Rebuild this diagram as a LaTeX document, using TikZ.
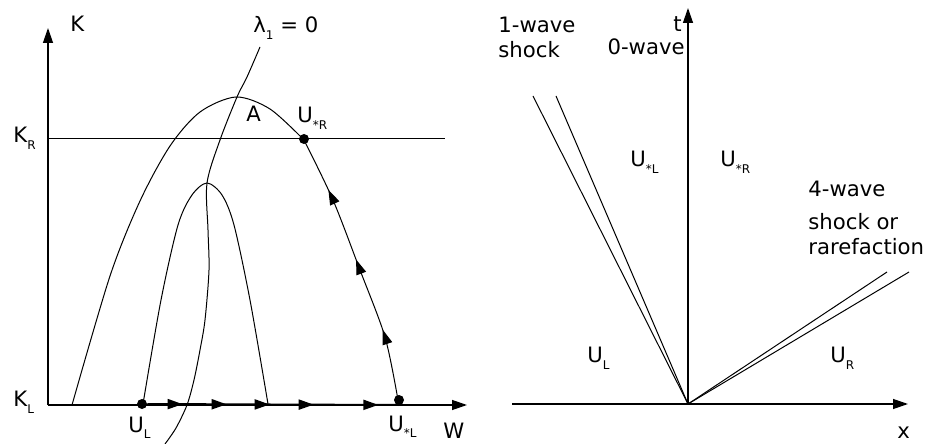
\documentclass[tikz,border=0pt]{standalone}
\usepackage{fontspec}
\setmainfont{DejaVu Sans}
\usetikzlibrary{arrows.meta,decorations.markings}
\newcommand{\ssub}[2]{#1\raisebox{-0.6ex}{\fontsize{6}{7}\selectfont#2}}
\tikzset{>={Triangle[length=7.5pt,width=5pt]}}
\begin{document}
\begin{tikzpicture}[x=0.5pt,y=-0.5pt,
  every node/.style={font=\fontsize{10.6}{12.5}\selectfont,inner sep=0pt},
  axis/.style={line width=0.65pt,->},
  curve/.style={line width=0.5pt},
  dot/.style={circle,fill,inner sep=0pt,minimum size=5pt},
  wstep/.style={line width=1pt,postaction={decorate},decoration={markings,
    mark=at position 0.14 with {\arrow{>}},mark=at position 0.315 with {\arrow{>}},
    mark=at position 0.486 with {\arrow{>}},mark=at position 0.661 with {\arrow{>}},
    mark=at position 0.918 with {\arrow{>}}}},
  kstep/.style={postaction={decorate},decoration={markings,
    mark=at position 0.26 with {\arrow{>}},mark=at position 0.53 with {\arrow{>}},
    mark=at position 0.80 with {\arrow{>}}}}]
\useasboundingbox (0,0) rectangle (928,444);
% left: (W,K) plane
\coordinate (o1) at (48,405);
\coordinate (ktip) at (48,28);
\coordinate (wtip) at (467,405);
\coordinate (kr0) at (48,139);
\coordinate (kr1) at (445,139);
\coordinate (wend) at (399,405);
\draw[axis] (o1) -- (ktip);
\draw[axis] (o1) -- (wtip);
\draw[curve] (kr0) -- (kr1);
\node[dot] (UL) at (142,404) {};
\node[dot] (UsL) at (399,400) {};
\node[dot] (UsR) at (304,139) {};
\draw[curve] plot[smooth] coordinates {(72,405) (110,276) (140,201) (170,146) (200,112) (236,97) (270,109) (304,140)};
\draw[curve,kstep] plot[smooth] coordinates {(398,400) (385,337) (360,270) (333,200) (304,140)};
\draw[curve] plot[smooth] coordinates {(143,404) (161,300) (178,225) (192,195) (207,183) (222,195) (234,225) (250,300) (268,404)};
\draw[curve] plot[smooth] coordinates {(260,47) (247,77) (237,97) (220,140) (207,183) (208,230) (209,270) (205,320) (200,350) (194,380) (187,405) (176,428) (165,444)};
\draw[wstep] (UL) -- (wend);
\node[anchor=base west] (lK) at (70,32) {K};
\node[anchor=base west] (lKR) at (13,143) {\ssub{K}{R}};
\node[anchor=base west] (lKL) at (13,407) {\ssub{K}{L}};
\node[anchor=base west] (lUL) at (128,432) {\ssub{U}{L}};
\node[anchor=base west] (lUsL) at (388,431) {\ssub{U}{*L}};
\node[anchor=base west] (lW) at (443,438) {W};
\node[anchor=base west] (lUsR) at (297,123) {\ssub{U}{*R}};
\node[anchor=base west] (lA) at (246,122) {A};
\node[anchor=base west] (llam) at (253,33) {\ssub{λ}{1} = 0};
% right: (x,t) plane
\coordinate (o2) at (688,404);
\coordinate (xl) at (512,404);
\coordinate (xtip) at (908,404);
\coordinate (ttip) at (688,8);
\coordinate (zw) at (688,70);
\coordinate (s1a) at (533,96);
\coordinate (s1b) at (556,96);
\coordinate (s4a) at (887,272);
\coordinate (s4b) at (909,272);
\draw[axis] (xl) -- (xtip);
\draw[axis] (o2) -- (ttip);
\draw[line width=1pt,dashed] (o2) -- (zw);
\foreach \e in {s1a,s1b,s4a,s4b}
  \draw[curve] (o2) -- (\e);
\node[anchor=base west,align=left] (w1) at (498,58) {1-wave\\shock};
\node[anchor=base east] (w0) at (685,55) {0-wave};
\node[anchor=base east] (lt) at (682,32) {t};
\node[anchor=base west] (rUsL) at (630,167) {\ssub{U}{*L}};
\node[anchor=base west] (rUsR) at (720,167) {\ssub{U}{*R}};
\node[anchor=base west,align=left] (w4) at (808,255) {4-wave\\[4pt]shock or\\rarefaction};
\node[anchor=base west] (rUL) at (587,363) {\ssub{U}{L}};
\node[anchor=base west] (rUR) at (830,363) {\ssub{U}{R}};
\node[anchor=base west] (lx) at (897,438) {x};
\end{tikzpicture}
\end{document}
